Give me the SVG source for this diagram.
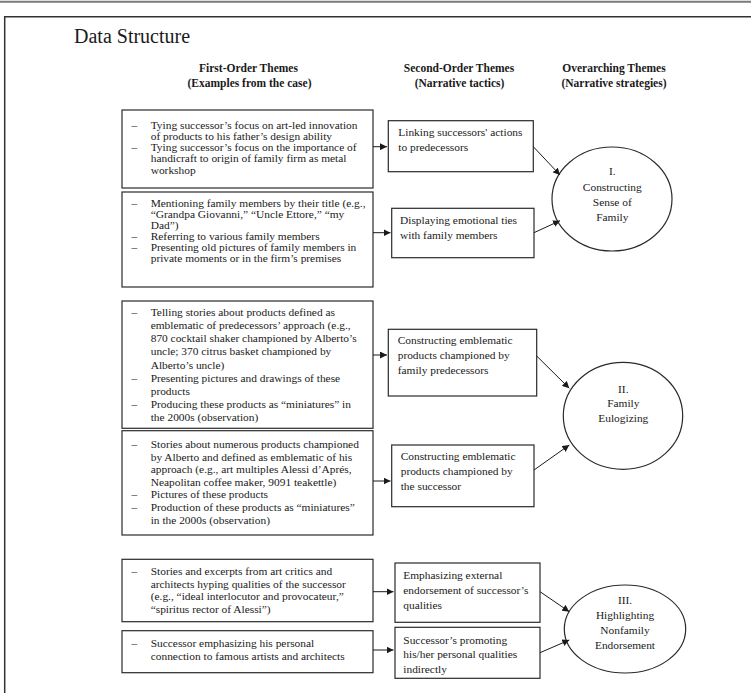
<svg xmlns="http://www.w3.org/2000/svg" width="751" height="693" viewBox="0 0 751 693">
<style>
.t{font-family:"Liberation Serif","Times New Roman",serif;font-size:11.4px;fill:#1a1a1a}
.h{font-family:"Liberation Serif","Times New Roman",serif;font-size:11.5px;font-weight:bold;fill:#1a1a1a;text-anchor:middle}
.c{text-anchor:middle}
.box{fill:#fff;stroke:#2a2a2a;stroke-width:1.2}
.conn line{stroke:#1a1a1a;stroke-width:1;marker-end:url(#ah)}
</style>
<defs>
<marker id="ah" viewBox="0 0 10 10" refX="10" refY="5" markerWidth="7" markerHeight="7" markerUnits="userSpaceOnUse" orient="auto">
<path d="M0,0 L10,5 L0,10 z" fill="#1a1a1a"/>
</marker>
</defs>
<rect width="751" height="693" fill="#fff"/>
<line x1="0" y1="1.7" x2="751" y2="1.7" stroke="#7a7a7a" stroke-width="2"/>
<path d="M752,16.7 H4.7 V694" fill="none" stroke="#333" stroke-width="1.5"/>
<text x="74" y="43.3" font-family="Liberation Serif, Times New Roman, serif" font-size="20" fill="#1a1a1a">Data Structure</text>
<g id="headers">
<text class="h" x="248.5" y="72">First-Order Themes</text>
<text class="h" x="249.5" y="86.5">(Examples from the case)</text>
<text class="h" x="459" y="72">Second-Order Themes</text>
<text class="h" x="459.5" y="86.5">(Narrative tactics)</text>
<text class="h" x="614" y="72">Overarching Themes</text>
<text class="h" x="614" y="86.5">(Narrative strategies)</text>
</g>

<g id="fo1">
<rect class="box" x="122" y="110" width="251" height="78"/>
<text class="t"><tspan x="131.5" y="128.5">–</tspan><tspan x="150.7" y="128.5">Tying successor’s focus on art-led innovation</tspan><tspan x="150.7" y="139.8">of products to his father’s design ability</tspan><tspan x="131.5" y="151.1">–</tspan><tspan x="150.7" y="151.1">Tying successor’s focus on the importance of</tspan><tspan x="150.7" y="162.4">handicraft to origin of family firm as metal</tspan><tspan x="150.7" y="173.7">workshop</tspan></text>
</g>
<g id="fo2">
<rect class="box" x="122" y="192" width="251" height="95"/>
<text class="t"><tspan x="131.5" y="207">–</tspan><tspan x="150.7" y="207">Mentioning family members by their title (e.g.,</tspan><tspan x="150.7" y="218">“Grandpa Giovanni,” “Uncle Ettore,” “my</tspan><tspan x="150.7" y="229">Dad”)</tspan><tspan x="131.5" y="240">–</tspan><tspan x="150.7" y="240">Referring to various family members</tspan><tspan x="131.5" y="251">–</tspan><tspan x="150.7" y="251">Presenting old pictures of family members in</tspan><tspan x="150.7" y="262">private moments or in the firm’s premises</tspan></text>
</g>
<g id="fo3">
<rect class="box" x="122" y="301" width="251" height="127.3"/>
<text class="t"><tspan x="131.5" y="315.8">–</tspan><tspan x="150.7" y="315.8">Telling stories about products defined as</tspan><tspan x="150.7" y="329">emblematic of predecessors’ approach (e.g.,</tspan><tspan x="150.7" y="342.1">870 cocktail shaker championed by Alberto’s</tspan><tspan x="150.7" y="355.3">uncle; 370 citrus basket championed by</tspan><tspan x="150.7" y="368.5">Alberto’s uncle)</tspan><tspan x="131.5" y="381.6">–</tspan><tspan x="150.7" y="381.6">Presenting pictures and drawings of these</tspan><tspan x="150.7" y="394.8">products</tspan><tspan x="131.5" y="408">–</tspan><tspan x="150.7" y="408">Producing these products as “miniatures” in</tspan><tspan x="150.7" y="421.2">the 2000s (observation)</tspan></text>
</g>
<g id="fo4">
<rect class="box" x="122" y="430.7" width="251" height="104.3"/>
<text class="t"><tspan x="131.5" y="448">–</tspan><tspan x="150.7" y="448">Stories about numerous products championed</tspan><tspan x="150.7" y="460.6">by Alberto and defined as emblematic of his</tspan><tspan x="150.7" y="473.2">approach (e.g., art multiples Alessi d’Aprés,</tspan><tspan x="150.7" y="485.8">Neapolitan coffee maker, 9091 teakettle)</tspan><tspan x="131.5" y="498.4">–</tspan><tspan x="150.7" y="498.4">Pictures of these products</tspan><tspan x="131.5" y="511">–</tspan><tspan x="150.7" y="511">Production of these products as “miniatures”</tspan><tspan x="150.7" y="523.6">in the 2000s (observation)</tspan></text>
</g>
<g id="fo5">
<rect class="box" x="122" y="559.3" width="251" height="62.4"/>
<text class="t"><tspan x="131.5" y="575.2">–</tspan><tspan x="150.7" y="575.2">Stories and excerpts from art critics and</tspan><tspan x="150.7" y="587.7">architects hyping qualities of the successor</tspan><tspan x="150.7" y="600.2">(e.g., “ideal interlocutor and provocateur,”</tspan><tspan x="150.7" y="612.7">“spiritus rector of Alessi”)</tspan></text>
</g>
<g id="fo6">
<rect class="box" x="122" y="630.7" width="251" height="42"/>
<text class="t"><tspan x="131.5" y="646.8">–</tspan><tspan x="150.7" y="646.8">Successor emphasizing his personal</tspan><tspan x="150.7" y="659.5">connection to famous artists and architects</tspan></text>
</g>

<g id="so1">
<rect class="box" x="388.3" y="120.7" width="145" height="51"/>
<text class="t"><tspan x="398.3" y="136">Linking successors' actions</tspan><tspan x="398.3" y="150.5">to predecessors</tspan></text>
</g>
<g id="so2">
<rect class="box" x="391.7" y="208.3" width="142.3" height="49.4"/>
<text class="t"><tspan x="400" y="223.5">Displaying emotional ties</tspan><tspan x="400" y="238.5">with family members</tspan></text>
</g>
<g id="so3">
<rect class="box" x="388.3" y="329.3" width="148.4" height="66.7"/>
<text class="t"><tspan x="397.7" y="344">Constructing emblematic</tspan><tspan x="397.7" y="359">products championed by</tspan><tspan x="397.7" y="374">family predecessors</tspan></text>
</g>
<g id="so4">
<rect class="box" x="391.7" y="445" width="142.3" height="61.7"/>
<text class="t"><tspan x="400.7" y="460">Constructing emblematic</tspan><tspan x="400.7" y="475">products championed by</tspan><tspan x="400.7" y="489.5">the successor</tspan></text>
</g>
<g id="so5">
<rect class="box" x="395" y="563" width="145" height="59.3"/>
<text class="t"><tspan x="403.3" y="578.5">Emphasizing external</tspan><tspan x="403.3" y="593.5">endorsement of successor’s</tspan><tspan x="403.3" y="608.5">qualities</tspan></text>
</g>
<g id="so6">
<rect class="box" x="395" y="627.3" width="145" height="51"/>
<text class="t"><tspan x="403.3" y="643.5">Successor’s promoting</tspan><tspan x="403.3" y="658">his/her personal qualities</tspan><tspan x="403.3" y="672.5">indirectly</tspan></text>
</g>

<g id="ot1">
<ellipse class="box" cx="612" cy="199" rx="60" ry="52"/>
<text class="t c"><tspan x="612.3" y="175">I.</tspan><tspan x="612.3" y="191">Constructing</tspan><tspan x="612.3" y="206">Sense of</tspan><tspan x="612.3" y="221">Family</tspan></text>
</g>
<g id="ot2">
<ellipse class="box" cx="623" cy="415.8" rx="59.7" ry="53.5"/>
<text class="t c"><tspan x="623.3" y="392.5">II.</tspan><tspan x="623.3" y="407">Family</tspan><tspan x="623.3" y="421.5">Eulogizing</tspan></text>
</g>
<g id="ot3">
<ellipse class="box" cx="625" cy="629" rx="60.7" ry="44"/>
<text class="t c"><tspan x="625" y="603.5">III.</tspan><tspan x="625" y="618.5">Highlighting</tspan><tspan x="625" y="633.5">Nonfamily</tspan><tspan x="625" y="648.5">Endorsement</tspan></text>
</g>

<g id="connectors" class="conn">
<line x1="373" y1="146.7" x2="387" y2="146.7"/>
<line x1="373" y1="232.7" x2="390.5" y2="232.7"/>
<line x1="373" y1="355" x2="387" y2="355"/>
<line x1="373" y1="481" x2="390.5" y2="481"/>
<line x1="373" y1="591.7" x2="393.5" y2="591.7"/>
<line x1="373" y1="650" x2="393.5" y2="650"/>
<line x1="533.3" y1="146.7" x2="560" y2="175"/>
<line x1="534" y1="232.7" x2="560" y2="220.7"/>
<line x1="536.7" y1="356" x2="569.3" y2="388.3"/>
<line x1="534" y1="470" x2="569.3" y2="445"/>
<line x1="540" y1="591.7" x2="569.3" y2="611.7"/>
<line x1="540" y1="652.7" x2="569.3" y2="640"/>
</g>
</svg>
